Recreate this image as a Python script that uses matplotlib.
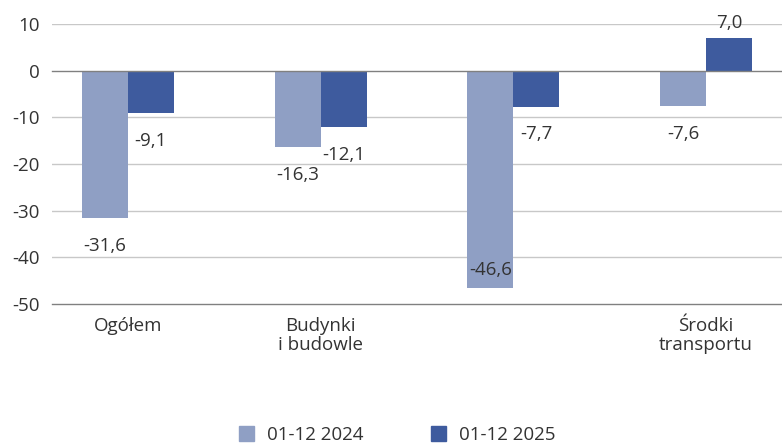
import matplotlib
matplotlib.use("Agg")
import matplotlib.pyplot as plt
import numpy as np
from matplotlib.patches import Patch

categories = ["Ogółem", "Budynki\ni budowle", "", "Środki\ntransportu"]
series_names = ["01-12 2024", "01-12 2025"]
values_2024 = [-31.6, -16.3, -46.6, -7.6]
values_2025 = [-9.1, -12.1, -7.7, 7.0]
yticks = [10, 0, -10, -20, -30, -40, -50]

colors = ["#8F9FC4", "#3E5B9E"]
txt = "#333333"
fs = 13.5

plt.rcParams['font.family'] = ['Open Sans', 'DejaVu Sans']

fig = plt.figure(figsize=(7.82, 4.44), dpi=100)
ax = fig.add_axes([0.0665, 0.315, 0.9335, 0.631])

x = np.arange(len(categories))
w = 0.238
bars1 = ax.bar(x - w/2, values_2024, w, color=colors[0], zorder=3)
bars2 = ax.bar(x + w/2, values_2025, w, color=colors[1], zorder=3)

ymin, ymax = -50, 10
ax.set_ylim(ymin, ymax)
ax.set_xlim(-0.394, 3.394)

def fmt(v):
    return f"{v:.1f}".replace(".", ",")

for bars, vals in ((bars1, values_2024), (bars2, values_2025)):
    for b, v in zip(bars, vals):
        cx = b.get_x() + b.get_width() / 2
        if v >= 0:
            off = 11
        elif v - 9 < ymin:
            off = 13
        else:
            off = -20
        ax.annotate(fmt(v), (cx, v), xytext=(0, off), textcoords="offset points",
                    ha="center", va="center", fontsize=fs, color=txt, zorder=5)

ax.set_yticks(yticks)
ax.set_yticklabels([str(t) for t in yticks], fontsize=fs, color=txt)
ax.set_xticks(x)
ax.set_xticklabels(categories, fontsize=fs, color=txt, linespacing=1.1)
ax.tick_params(axis="x", length=0, pad=9)
ax.tick_params(axis="y", length=0, pad=9)

for t in yticks:
    if t in (0, -50):
        ax.axhline(t, color="#808080", lw=1.0, zorder=4, clip_on=False)
    else:
        ax.axhline(t, color="#C8C8C8", lw=1.0, zorder=1)

for s in ax.spines.values():
    s.set_visible(False)

handles = [Patch(color=colors[0], label=series_names[0]),
           Patch(color=colors[1], label=series_names[1])]
fig.legend(handles=handles, loc="center", bbox_to_anchor=(0.508, 0.02), ncol=2,
           frameon=False, fontsize=fs, handlelength=0.8, handleheight=0.8,
           columnspacing=3.6, handletextpad=0.7, labelcolor=txt)

fig.savefig("out.png", dpi=100)
